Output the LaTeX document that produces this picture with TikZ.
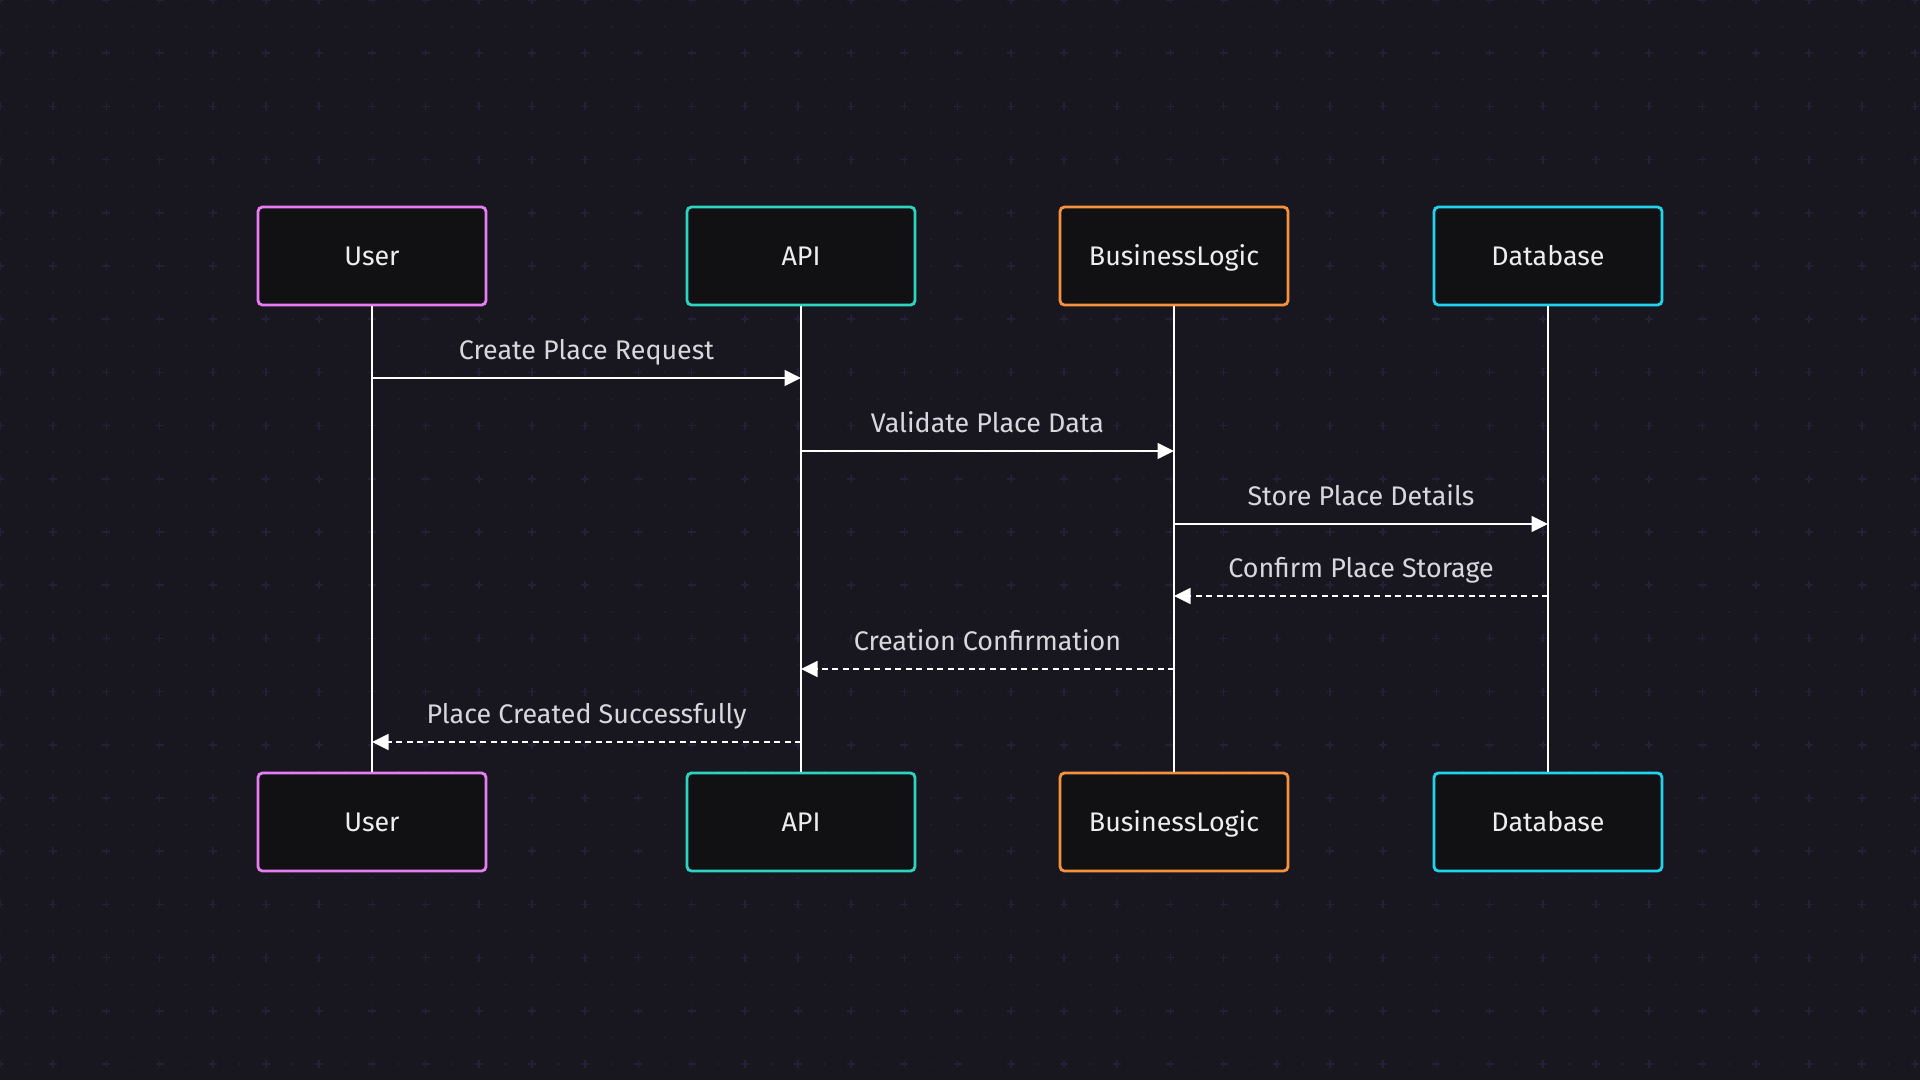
\documentclass[tikz,border=0pt]{standalone}
\usepackage{fontspec}
\setmainfont{Fira Sans}
\usepackage{tikz}
\usetikzlibrary{arrows.meta,positioning}
\usepackage{xcolor}
\definecolor{seqbg}{HTML}{18171F}
\definecolor{seqgrid}{HTML}{222135}
\definecolor{seqbox}{HTML}{111114}
\definecolor{seqpink}{HTML}{E77CF5}
\definecolor{seqteal}{HTML}{2DD4BF}
\definecolor{seqorange}{HTML}{F5923E}
\definecolor{seqcyan}{HTML}{22D3EE}
\definecolor{seqtext}{HTML}{EDEDF0}
\definecolor{seqlabel}{HTML}{D8D8DC}
\tikzstyle{actor} = [rectangle, rounded corners=2.5pt, minimum width=4.56cm, minimum height=1.96cm, text centered, text height=13pt, text depth=2.4pt, fill=seqbox, line width=1.6pt, text=seqtext, font=\fontsize{15.3}{18}\selectfont]
\tikzstyle{lifeline} = [line width=1.6pt, white]

\begin{document}
\begin{tikzpicture}[x=0.02cm, y=-0.02cm,
    msg/.style={line width=1.6pt, white, -{Triangle[length=0.33cm, width=0.31cm]}},
    reply/.style={msg, dash pattern=on 0.12cm off 0.09cm},
    msglabel/.style={midway, anchor=base, yshift=0.38cm, text=seqlabel, font=\fontsize{15.3}{18}\selectfont}]

% Background and dot grid
\fill[seqbg] (0,0) rectangle (1920,1080);
\useasboundingbox (0,0) rectangle (1920,1080);
\foreach \i in {0,...,72} {
  \foreach \j in {0,...,41} {
    \fill[seqgrid] (26.6*\i,26.6*\j) circle (0.024cm);
  }
}
\foreach \i in {0,...,36} {
  \foreach \j in {0,...,20} {
    \draw[seqgrid, line width=1pt] (53.2*\i-4,53.2*\j) -- (53.2*\i+4,53.2*\j)
      (53.2*\i,53.2*\j-4) -- (53.2*\i,53.2*\j+4);
  }
}

% Participants (top)
\node[actor, draw=seqpink] (usertop) at (372,256) {User};
\node[actor, draw=seqteal] (apitop) at (801,256) {API};
\node[actor, draw=seqorange] (logictop) at (1174,256) {BusinessLogic};
\node[actor, draw=seqcyan] (dbtop) at (1548,256) {Database};

% Participants (bottom)
\node[actor, draw=seqpink] (userbot) at (372,822) {User};
\node[actor, draw=seqteal] (apibot) at (801,822) {API};
\node[actor, draw=seqorange] (logicbot) at (1174,822) {BusinessLogic};
\node[actor, draw=seqcyan] (dbbot) at (1548,822) {Database};

% Lifelines
\draw[lifeline] (usertop) -- (userbot);
\draw[lifeline] (apitop) -- (apibot);
\draw[lifeline] (logictop) -- (logicbot);
\draw[lifeline] (dbtop) -- (dbbot);

% Messages
\draw[msg] (usertop |- 0,378) -- (apitop |- 0,378) node[msglabel] {Create Place Request};
\draw[msg] (apitop |- 0,451) -- (logictop |- 0,451) node[msglabel] {Validate Place Data};
\draw[msg] (logictop |- 0,524) -- (dbtop |- 0,524) node[msglabel] {Store Place Details};

% Replies
\draw[reply] (dbtop |- 0,596) -- (logictop |- 0,596) node[msglabel] {Confirm Place Storage};
\draw[reply] (logictop |- 0,669) -- (apitop |- 0,669) node[msglabel] {Creation Confirmation};
\draw[reply] (apitop |- 0,742) -- (usertop |- 0,742) node[msglabel] {Place Created Successfully};
\end{tikzpicture}
\end{document}
